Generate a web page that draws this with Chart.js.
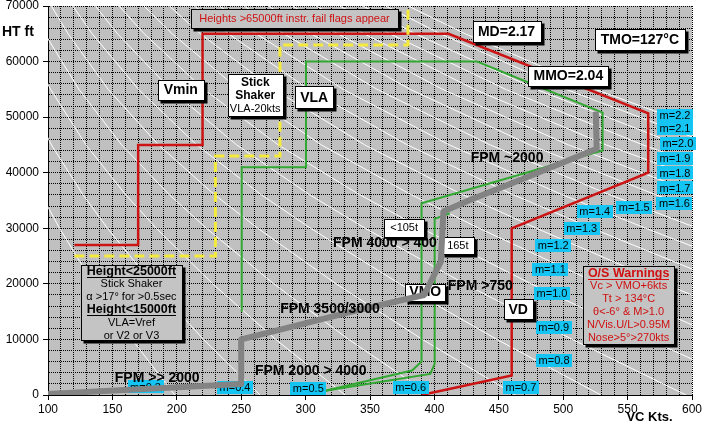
<!DOCTYPE html>
<html lang="en">
<head>
    <meta charset="UTF-8">
    <title>Flight Envelope</title>
    <script src="https://cdn.jsdelivr.net/npm/chart.js"></script>
    <style>
        body { margin: 0; background: #ffffff; }
        #wrap { width: 704px; height: 424px; }
    </style>
</head>
<body>
<div id="wrap"><canvas id="envelope" width="704" height="424"></canvas></div>
<script>
// Constant Mach lines (CAS in kts at each altitude)
const machNumbers = [0.3, 0.4, 0.5, 0.6, 0.7, 0.8, 0.9, 1.0, 1.1, 1.2, 1.3, 1.4, 1.5, 1.6, 1.7, 1.8, 1.9, 2.0, 2.1, 2.2];
const machAltitudes = [0, 10000, 20000, 30000, 36089, 45000, 55000, 65000, 70000];
const machCas = [
    [198.4, 165.2, 135.3, 109.0, 94.6, null, null, null, null],
    [264.6, 220.7, 181.3, 146.2, 127.0, 102.7, 80.8, null, null],
    [330.7, 276.8, 227.9, 184.1, 160.1, 129.5, 102.0, 80.3, null],
    [396.9, 333.5, 275.3, 223.0, 194.0, 157.2, 124.0, 97.6, null],
    [463.0, 390.7, 323.7, 262.9, 229.0, 185.8, 146.7, 115.6, 102.6],
    [529.2, 448.5, 373.1, 303.9, 265.2, 215.5, 170.3, 134.3, 119.3],
    [595.3, 507.1, 423.6, 346.3, 302.7, 246.5, 195.1, 154.0, 136.8],
    [661.5, 566.3, 475.2, 390.0, 341.6, 278.8, 221.0, 174.7, 155.2],
    [727.6, 625.7, 527.5, 434.8, 381.6, 312.3, 248.1, 196.4, 174.5],
    [null, 683.3, 578.9, 479.2, 421.6, 345.9, 275.4, 218.3, 194.2],
    [null, 738.3, 628.4, 522.4, 460.7, 379.1, 302.5, 240.2, 213.7],
    [null, null, 675.8, 564.1, 498.7, 411.6, 329.3, 261.8, 233.2],
    [null, null, 721.0, 604.4, 535.5, 443.3, 355.5, 283.2, 252.4],
    [null, null, null, 643.1, 571.2, 474.2, 381.2, 304.3, 271.3],
    [null, null, null, 680.3, 605.6, 504.2, 406.4, 325.0, 290.0],
    [null, null, null, null, 638.8, 533.4, 431.1, 345.4, 308.4],
    [null, null, null, null, 671.0, 561.9, 455.3, 365.5, 326.6],
    [null, null, null, null, 702.1, 589.5, 479.0, 385.3, 344.5],
    [null, null, null, null, 732.2, 616.5, 502.2, 404.7, 362.2],
    [null, null, null, null, 761.4, 642.8, 524.9, 423.9, 379.7]
];

// Vmin / MD / VD limit (red)
const redKts = [120.5, 170, 170, 220, 220, 411, 566, 566, 460, 460, 390];
const redFt  = [27000, 27000, 45000, 45000, 65000, 65000, 50700, 40000, 30000, 3500, 0];

// VLA (green, outer)
const vlaKts = [250.4, 250.4, 300.3, 300.3, 433, 530.6, 530.6, 390, 390, 382.6, 300.8];
const vlaFt  = [15000, 41000, 41000, 60000, 60000, 50800, 44000, 34500, 6000, 4400, 0];

// VMO (green, inner)
const vmoKts = [412, 400.2, 400.2, 396.8, 318.8, 300.8];
const vmoFt  = [32700, 31700, 5600, 3800, 900, 0];

// stick shaker (yellow dashed)
const shakerKts = [120.5, 230, 230, 280.1, 280.1, 379.5, 379.5];
const shakerFt  = [25000, 25000, 43000, 43000, 63000, 63000, 70000];

// flight profile (grey)
const profileKts = [100, 250, 250, 336, 392, 405, 407, 427.6, 466.5, 526, 525.3];
const profileFt  = [200, 2000, 10000, 15000, 18000, 24000, 33000, 35100, 38700, 44300, 51000];

// Mach tags
const machTagText = ['m=0.3', 'm=0.4', 'm=0.5', 'm=0.6', 'm=0.7', 'm=0.8', 'm=0.9', 'm=1.0', 'm=1.1', 'm=1.2',
                     'm=1.3', 'm=1.4', 'm=1.5', 'm=1.6', 'm=1.7', 'm=1.8', 'm=1.9', 'm=2.0', 'm=2.1', 'm=2.2'];
const machTagKts = [175.7, 245.2, 302.1, 381.6, 467.2, 492.9, 492.6, 491.3, 490.0, 492.3,
                    514.4, 524.5, 555.2, 586.4, 586.8, 586.8, 586.8, 589.0, 586.8, 586.8];
const machTagFt  = [1440, 1350, 1200, 1300, 1390, 6150, 12150, 18230, 22530, 26870,
                    29930, 33060, 33780, 34400, 37250, 39950, 42590, 45200, 47900, 50330];

// climb rate texts
const fpmText = ['FPM >> 2000', 'FPM 2000 > 4000', 'FPM 3500/3000', 'FPM >750', 'FPM 4000 > 400', 'FPM ~2000'];
const fpmKts  = [184.8, 304.0, 318.9, 435.6, 361.6, 456.4];
const fpmFt   = [3110, 4370, 15420, 19610, 27300, 42580];

// boxed notes
const notes = [
    { x: 203.1, y: 54880, w: 46, h: 20, fill: '#fff', lines: [['Vmin', 't']] },
    { x: 260.9, y: 53930, w: 55, h: 42, fill: '#fff', lh: 13.3, lines: [['Stick', 's'], ['Shaker', 's'], ['VLA-20kts', 'n']] },
    { x: 306.7, y: 53590, w: 38, h: 22, fill: '#fff', lines: [['VLA', 't']] },
    { x: 456.0, y: 65470, w: 68, h: 21, fill: '#fff', lines: [['MD=2.17', 't']] },
    { x: 559.5, y: 64030, w: 90, h: 21, fill: '#fff', lines: [['TMO=127°C', 't']] },
    { x: 504.0, y: 57440, w: 80, h: 20, fill: '#fff', lines: [['MMO=2.04', 't']] },
    { x: 376.5, y: 30140, w: 40, h: 18, fill: '#fff', lines: [['<105t', 'n']] },
    { x: 418.2, y: 26940, w: 32, h: 17, fill: '#fff', lines: [['165t', 'n']] },
    { x: 392.9, y: 18530, w: 40, h: 17, fill: '#fff', lines: [['VMO', 't']] },
    { x: 465.1, y: 15420, w: 29, h: 20, fill: '#fff', lines: [['VD', 't']] },
    { x: 291.4, y: 67790, w: 207, h: 19, fill: '#c4c4c4', color: '#d01010',
      lines: [['Heights >65000ft instr. fail flags appear', 'n']] },
    { x: 164.8, y: 16560, w: 101, h: 75, fill: '#c4c4c4', lh: 12.8,
      lines: [['Height<25000ft', 'u'], ['Stick Shaker', 'n'], ['α >17° for >0.5sec', 'n'],
              ['Height<15000ft', 'u'], ['VLA=Vref', 'n'], ['or V2 or V3', 'n']] },
    { x: 550.8, y: 16140, w: 91, h: 78, fill: '#c4c4c4', color: '#d01010', lh: 12.9,
      lines: [['O/S Warnings', 'u'], ['Vc > VMO+6kts', 'n'], ['Tt > 134°C', 'n'],
              ['θ<-6° & M>1.0', 'n'], ['N/Vis.U/L>0.95M', 'n'], ['Nose>5°>270kts', 'n']] }
];

const FAMILY = '"Liberation Sans", Arial, sans-serif';
const FONTS = {
    t: 'bold 14px ' + FAMILY,
    s: 'bold 12px ' + FAMILY,
    u: 'bold 12.5px ' + FAMILY,
    n: '11px ' + FAMILY
};

const zip = (xs, ys) => xs.map((x, i) => ({ x: x, y: ys[i] }));

function lineSet(id, xs, ys, color, width, order, extra) {
    return Object.assign({
        id: id,
        data: zip(xs, ys),
        showLine: true,
        borderColor: color,
        borderWidth: width,
        pointRadius: 0,
        tension: 0,
        fill: false,
        order: order
    }, extra || {});
}

const datasets = [];
datasets.push(lineSet('profile', profileKts, profileFt, '#838383', 6, 0, { borderJoinStyle: 'round' }));
datasets.push(lineSet('shaker', shakerKts, shakerFt, '#f4ea3c', 3, 1, { borderDash: [10, 5] }));
datasets.push(lineSet('vmo', vmoKts, vmoFt, '#31a831', 2, 2));
datasets.push(lineSet('vla', vlaKts, vlaFt, '#31a831', 2, 2));
datasets.push(lineSet('limit', redKts, redFt, '#cc1414', 2.5, 3));
machCas.forEach((row, k) => {
    const pts = [];
    row.forEach((v, i) => { if (v !== null) pts.push({ x: v, y: machAltitudes[i] }); });
    datasets.push({
        id: 'mach' + machNumbers[k],
        data: pts,
        showLine: true,
        borderColor: '#ffffff',
        borderWidth: 1,
        pointRadius: 0,
        tension: 0,
        order: 10
    });
});

function drawBox(ctx, cx, cy, w, h, fill) {
    const x = Math.round(cx - w / 2) + 0.5, y = Math.round(cy - h / 2) + 0.5;
    ctx.fillStyle = '#000';
    ctx.fillRect(x + 2, y + 2, w + 1, h + 1);
    ctx.fillStyle = fill;
    ctx.fillRect(x, y, w, h);
    ctx.strokeStyle = '#000';
    ctx.lineWidth = 1;
    ctx.strokeRect(x, y, w, h);
}

const notesPlugin = {
    id: 'notes',
    beforeDraw(chart) {
        const a = chart.chartArea, ctx = chart.ctx;
        ctx.save();
        ctx.fillStyle = '#c0c0c0';
        ctx.fillRect(a.left, a.top, a.right - a.left, a.bottom - a.top);
        ctx.restore();
    },
    beforeDatasetDraw(chart, args) {
        if (chart.data.datasets[args.index].id !== 'profile') return;
        const ctx = chart.ctx, xs = chart.scales.x, ys = chart.scales.y;
        ctx.save();
        // mach tags
        ctx.font = '11px ' + FAMILY;
        ctx.textAlign = 'center';
        ctx.textBaseline = 'middle';
        machTagText.forEach((t, i) => {
            const px = xs.getPixelForValue(machTagKts[i]), py = ys.getPixelForValue(machTagFt[i]);
            ctx.fillStyle = '#14c4f2';
            ctx.fillRect(Math.round(px - 18), Math.round(py - 6.5), 36, 13);
            ctx.fillStyle = '#000';
            ctx.fillText(t, px, py + 0.5);
        });
        // boxes
        notes.forEach(n => {
            const cx = xs.getPixelForValue(n.x), cy = ys.getPixelForValue(n.y);
            drawBox(ctx, cx, cy, n.w, n.h, n.fill);
            const lh = n.lh || 14;
            let y = cy - (n.lines.length - 1) * lh / 2;
            n.lines.forEach(([text, st]) => {
                ctx.font = FONTS[st];
                ctx.fillStyle = n.color || '#000';
                ctx.fillText(text, cx, y + 0.5);
                if (st === 'u') {
                    const w = ctx.measureText(text).width;
                    ctx.fillRect(Math.round(cx - w / 2), Math.round(y + 6), Math.round(w), 1);
                }
                y += lh;
            });
        });
        ctx.restore();
    },
    afterDatasetsDraw(chart) {
        const ctx = chart.ctx, xs = chart.scales.x, ys = chart.scales.y;
        ctx.save();
        ctx.font = 'bold 14px ' + FAMILY;
        ctx.fillStyle = '#000';
        ctx.textAlign = 'center';
        ctx.textBaseline = 'middle';
        fpmText.forEach((t, i) => {
            ctx.fillText(t, xs.getPixelForValue(fpmKts[i]), ys.getPixelForValue(fpmFt[i]));
        });
        ctx.restore();
    },
    afterDraw(chart) {
        const ctx = chart.ctx, xs = chart.scales.x, ys = chart.scales.y;
        ctx.save();
        ctx.fillStyle = '#000';
        ctx.textBaseline = 'middle';
        ctx.font = 'bold 14px ' + FAMILY;
        ctx.textAlign = 'left';
        ctx.fillText('HT ft', 2, ys.getPixelForValue(65300));
        ctx.font = 'bold 13px ' + FAMILY;
        ctx.textAlign = 'center';
        ctx.fillText('VC Kts.', xs.getPixelForValue(567), chart.chartArea.bottom + 22);
        ctx.restore();
    }
};

const tickFont = { family: FAMILY, size: 12 };

new Chart(document.getElementById('envelope'), {
    type: 'scatter',
    data: { datasets: datasets },
    options: {
        responsive: false,
        animation: false,
        events: [],
        layout: { padding: { left: 0, right: 12, top: 6, bottom: 0 } },
        plugins: { legend: { display: false }, tooltip: { enabled: false } },
        scales: {
            x: {
                type: 'linear', min: 100, max: 600,
                afterFit: s => { s.height = 29; s.paddingLeft = 0; s.paddingRight = 0; },
                ticks: {
                    stepSize: 10, autoSkip: false, maxRotation: 0, padding: 2, color: '#000', font: tickFont,
                    callback: v => (Math.round(v) % 50 === 0 ? String(Math.round(v)) : '')
                },
                grid: {
                    color: '#000', lineWidth: 1, tickLength: 5,
                    tickColor: c => (c.tick && Math.round(c.tick.value) % 50 === 0 ? '#000' : 'rgba(0,0,0,0)')
                },
                border: { color: '#000', width: 1, dash: [1, 1] }
            },
            y: {
                type: 'linear', min: 0, max: 70000,
                afterFit: s => { s.width = 48; s.paddingTop = 0; s.paddingBottom = 0; },
                ticks: {
                    stepSize: 2000, autoSkip: false, padding: 4, color: '#000', font: tickFont,
                    callback: v => (Math.round(v) % 10000 === 0 ? String(Math.round(v)) : '')
                },
                grid: {
                    color: '#000', lineWidth: 1, tickLength: 5,
                    tickColor: c => (c.tick && Math.round(c.tick.value) % 10000 === 0 ? '#000' : 'rgba(0,0,0,0)')
                },
                border: { color: '#000', width: 1, dash: [1, 1] }
            }
        }
    },
    plugins: [notesPlugin]
});
</script>
</body>
</html>
